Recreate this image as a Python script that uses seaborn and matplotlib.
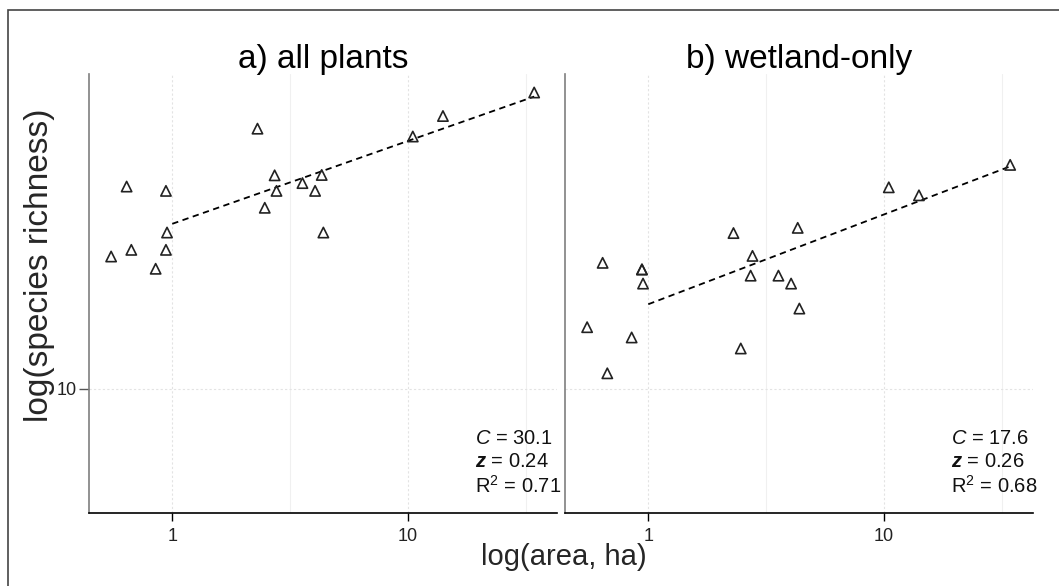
import numpy as np
import pandas as pd
import matplotlib.pyplot as plt
import seaborn as sns
from matplotlib.patches import Rectangle
from matplotlib.ticker import FixedLocator, FixedFormatter, NullLocator, NullFormatter

# island area (ha), shared by both panels
area = [0.55, 0.64, 0.67, 0.85, 0.94, 0.94, 0.95, 2.30, 2.47, 2.72,
        2.77, 3.57, 4.04, 4.31, 4.38, 10.5, 14.1, 34.4]
# species richness, all plants
rich_all = [24.2, 38.6, 25.3, 22.3, 25.3, 37.5, 28.4, 56.8, 33.5, 41.6,
            37.5, 39.5, 37.5, 41.7, 28.4, 53.9, 61.8, 72.3]
# species richness, wetland plants only
rich_wet = [15.1, 23.2, 11.1, 14.1, 22.2, 22.2, 20.2, 28.3, 13.1, 21.3,
            24.3, 21.3, 20.2, 29.3, 17.1, 38.4, 36.4, 44.6]

titles = ["a) all plants", "b) wetland-only"]
fit_C = [30.1, 17.6]
fit_z = [0.24, 0.26]
fit_r2 = [0.71, 0.68]

df = pd.DataFrame({"area": area * 2,
                   "richness": rich_all + rich_wet,
                   "panel": [titles[0]] * len(area) + [titles[1]] * len(area)})

sns.set_theme(style="white")
plt.rcParams["font.family"] = ["Liberation Sans", "DejaVu Sans"]
plt.rcParams["mathtext.fontset"] = "custom"
plt.rcParams["mathtext.rm"] = "Liberation Sans"
plt.rcParams["mathtext.it"] = "Liberation Sans:italic"
plt.rcParams["mathtext.bf"] = "Liberation Sans:bold:italic"

W, H = 1059, 586
fig = plt.figure(figsize=(W / 100, H / 100), dpi=100)

def px_axes(x0, y0, x1, y1):
    return fig.add_axes([x0 / W, 1 - y1 / H, (x1 - x0) / W, (y1 - y0) / H])

axes = [px_axes(89, 74, 557, 513), px_axes(565, 74, 1033, 513)]

for i, ax in enumerate(axes):
    sub = df[df["panel"] == titles[i]]
    sns.scatterplot(data=sub, x="area", y="richness", ax=ax, marker="^",
                    s=55, facecolor="none", edgecolor="#222222", linewidth=1.2,
                    legend=False, zorder=3)
    xs = np.array([1, max(area)])
    fit = pd.DataFrame({"area": xs, "richness": fit_C[i] * xs ** fit_z[i]})
    sns.lineplot(data=fit, x="area", y="richness", ax=ax, color="black",
                 linestyle=(0, (3.5, 2.5)), linewidth=1.3, zorder=2)

    ax.set_xscale("log")
    ax.set_yscale("log")
    ax.set_xlim(0.443, 43.0)
    ax.set_ylim(4.37, 81.8)
    ax.xaxis.set_major_locator(FixedLocator([1, 10]))
    ax.xaxis.set_major_formatter(FixedFormatter(["1", "10"]))
    ax.xaxis.set_minor_locator(FixedLocator([10 ** 0.5, 10 ** 1.5]))
    ax.xaxis.set_minor_formatter(NullFormatter())
    ax.yaxis.set_major_locator(FixedLocator([10]))
    ax.yaxis.set_major_formatter(FixedFormatter(["10"]))
    ax.yaxis.set_minor_locator(NullLocator())
    ax.yaxis.set_minor_formatter(NullFormatter())
    ax.grid(which="major", color="#e3e3e3", linestyle=(0, (2, 2)), linewidth=0.8)
    ax.grid(which="minor", axis="x", color="#f0f0f0", linestyle="-", linewidth=0.8)
    ax.set_axisbelow(True)

    for s in ["top", "right"]:
        ax.spines[s].set_visible(False)
    ax.spines["bottom"].set_color("black")
    ax.spines["bottom"].set_linewidth(1.2)
    ax.spines["left"].set_color("#7f7f7f")
    ax.spines["left"].set_linewidth(1.2)
    ax.tick_params(axis="x", which="major", direction="out", length=6, width=1,
                   color="black", labelsize=13, labelcolor="#222222", pad=5, bottom=True)
    ax.tick_params(axis="x", which="minor", length=0)
    ax.tick_params(axis="y", which="major", direction="out", length=7, width=1,
                   color="#555555", labelsize=13, labelcolor="#222222", pad=2,
                   left=(i == 0), labelleft=(i == 0))
    ax.set_xlabel("")
    ax.set_ylabel("")
    ax.set_title(titles[i], fontsize=24, pad=4, color="black")

    ann = [rf"$C$ = {fit_C[i]}", rf"$\mathbf{{z}}$ = {fit_z[i]:.2f}",
           rf"R$^2$ = {fit_r2[i]:.2f}"]
    for j, ypix in enumerate([443.5, 467, 493]):
        ax.text((475 - 89) / 468, (513 - ypix) / 439, ann[j],
                transform=ax.transAxes, fontsize=14.5, ha="left",
                va="baseline", color="#111111")

fig.text(564 / W, 1 - 557 / H, "log(area, ha)", fontsize=21, ha="center",
         va="center")
fig.text(40 / W, 1 - 265 / H, "log(species richness)", fontsize=24,
         ha="center", va="center", rotation=90)

# outer frame of the original figure (cut off at right and bottom)
fig.patches.append(Rectangle((8 / W, -0.5), 2, 1.5 - 10 / H,
                             transform=fig.transFigure, fill=False,
                             edgecolor="#444444", linewidth=1.2))

fig.savefig("out.png", dpi=100)
